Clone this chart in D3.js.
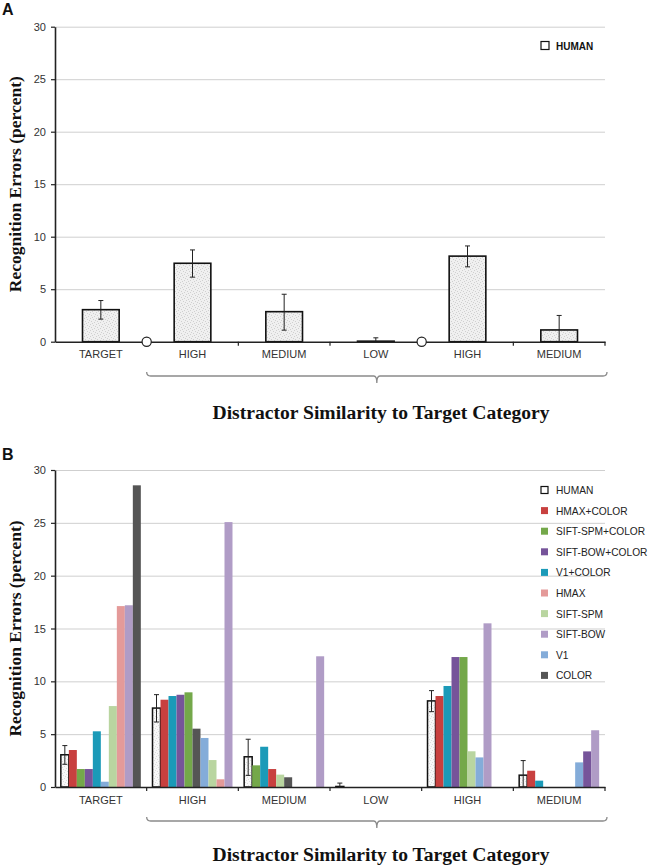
<!DOCTYPE html>
<html>
<head>
<meta charset="utf-8">
<script src="https://cdn.jsdelivr.net/npm/d3@7"></script>
<style>
    body { margin: 0; background: #fff; }
</style>
</head>
<body>
<script>
// categories along the x axis (two groups share names)
var categories = ["TARGET", "HIGH", "MEDIUM", "LOW", "HIGH", "MEDIUM"];

// human recognition errors and error bar ends (percent)
var humanVals = [3.05, 7.47, 2.86, 0.05, 8.15, 1.12];
var humanLow  = [2.15, 6.15, 1.1, 0, 7.13, 0];
var humanHigh = [3.92, 8.74, 4.52, 0.37, 9.12, 2.5];

// models, legend order
var seriesNames = ["HUMAN", "HMAX+COLOR", "SIFT-SPM+COLOR", "SIFT-BOW+COLOR",
    "V1+COLOR", "HMAX", "SIFT-SPM", "SIFT-BOW", "V1", "COLOR"];
var seriesColors = ["#ffffff", "#c8403f", "#74a84a", "#76549a", "#1b9ab8",
    "#e49a99", "#b9d5a0", "#b09cc6", "#84acd9", "#555555"];

// bar order inside each group (index in seriesNames) and its values
var targetOrder = [0, 1, 2, 3, 4, 8, 6, 5, 7, 9];
var targetVals  = [3.05, 3.5, 1.7, 1.7, 5.27, 0.5, 7.66, 17.12, 17.2, 28.55];
var highOrder   = [0, 1, 4, 3, 2, 9, 8, 6, 5, 7];
var highVals    = [7.47, 8.26, 8.61, 8.73, 8.96, 5.52, 4.64, 2.55, 0.73, 25.07];
var mediumOrder = [0, 2, 4, 1, 6, 9, 8, 5, 3, 7];
var mediumVals  = [2.86, 2.05, 3.81, 1.7, 1.17, 0.92, 0, 0, 0, 12.37];
var lowOrder    = [0, 1, 2, 3, 4, 5, 6, 7, 8, 9];
var lowVals     = [0.05, 0, 0, 0, 0, 0, 0, 0, 0, 0];
var high2Order  = [0, 1, 4, 3, 2, 6, 8, 7, 5, 9];
var high2Vals   = [8.15, 8.61, 9.56, 12.3, 12.3, 3.38, 2.8, 15.49, 0, 0];
var medium2Order = [0, 1, 4, 2, 6, 5, 9, 8, 3, 7];
var medium2Vals  = [1.12, 1.54, 0.6, 0, 0, 0, 0, 2.33, 3.37, 5.37];

var yTicks = [0, 5, 10, 15, 20, 25, 30];

var groupOrders = [targetOrder, highOrder, mediumOrder, lowOrder, high2Order,
    medium2Order];
var groupVals = [targetVals, highVals, mediumVals, lowVals, high2Vals,
    medium2Vals];

var SANS = "Liberation Sans, Arial, sans-serif";
var SERIF = "Liberation Serif, Times New Roman, serif";

var svg = d3.select("body").append("svg")
    .attr("width", 648)
    .attr("height", 865)
    .attr("font-family", SANS);

// stipple texture for the human bars
var defs = svg.append("defs");
function stipple(id, bg, dots)
{
    var p = defs.append("pattern")
        .attr("id", id)
        .attr("patternUnits", "userSpaceOnUse")
        .attr("width", 6).attr("height", 6);
    p.append("rect").attr("width", 6).attr("height", 6).attr("fill", bg);
    [[0, 0], [3, 1], [1, 3], [4, 4], [5, 2], [2, 5]].forEach(function(d)
    {
        p.append("rect").attr("x", d[0]).attr("y", d[1])
            .attr("width", 1).attr("height", 1).attr("fill", dots);
    });
}
stipple("dotsA", "#f0f0f0", "#d0d0d0");
stipple("dotsB", "#f8f8f8", "#dcdcdc");

var x = d3.scaleBand().domain(d3.range(6)).range([55, 605]);

function panel(top0, top30, letter, letterY)
{
    var y = d3.scaleLinear().domain([0, 30]).range([top0, top30]);
    var g = svg.append("g");

    // gridlines
    g.append("g")
        .attr("transform", "translate(55,0)")
        .call(d3.axisLeft(y).tickValues(yTicks.slice(1)).tickSize(-550)
            .tickFormat(""))
        .call(function(a) { a.select(".domain").remove(); })
        .selectAll("line").attr("stroke", "#cfcfcf");

    // y axis
    var ya = g.append("g")
        .attr("transform", "translate(55,0)")
        .call(d3.axisLeft(y).tickValues(yTicks).tickSize(4).tickSizeOuter(0)
            .tickPadding(5));
    ya.select(".domain").attr("stroke", "#222").attr("stroke-width", 1.6);
    ya.selectAll("line").attr("stroke", "#222").attr("stroke-width", 1.2);
    ya.selectAll("text").attr("font-size", 11).attr("fill", "#333")
        .attr("font-family", SANS);

    // y label
    g.append("text")
        .attr("transform", "translate(21," + ((top0 + top30) / 2) +
            ") rotate(-90)")
        .attr("text-anchor", "middle")
        .attr("font-family", SERIF)
        .attr("font-weight", "bold")
        .attr("font-size", 17.5)
        .attr("fill", "#111")
        .text("Recognition Errors (percent)");

    // panel letter
    g.append("text")
        .attr("x", 2).attr("y", letterY)
        .attr("font-size", 16).attr("font-weight", "bold").attr("fill", "#111")
        .text(letter);

    return {g: g, y: y};
}

function xAxis(g, y, circles)
{
    var xa = g.append("g")
        .attr("transform", "translate(0," + y(0) + ")")
        .call(d3.axisBottom(x).tickSize(0).tickPadding(9)
            .tickFormat(function(i) { return categories[i]; }));
    xa.select(".domain").attr("stroke", "#222").attr("stroke-width", 1.6);
    xa.selectAll("text").attr("font-size", 11).attr("fill", "#333")
        .attr("font-family", SANS);

    // boundary ticks between categories
    var bounds = d3.range(1, 7);
    g.selectAll(null).data(bounds.filter(function(b)
        { return circles.indexOf(b) < 0; }))
        .enter().append("line")
        .attr("x1", function(b) { return x(0) + b * x.step(); })
        .attr("x2", function(b) { return x(0) + b * x.step(); })
        .attr("y1", y(0)).attr("y2", y(0) + 4)
        .attr("stroke", "#222").attr("stroke-width", 1.2);
    g.selectAll(null).data(circles)
        .enter().append("circle")
        .attr("cx", function(b) { return x(0) + b * x.step(); })
        .attr("cy", y(0))
        .attr("r", 4.6)
        .attr("fill", "#fff").attr("stroke", "#222").attr("stroke-width", 1.2);
}

function brace(yTop, yLine)
{
    var l = x(1), r = x(5) + x.bandwidth() + 2, c = (l + r) / 2;
    svg.append("path")
        .attr("d", "M" + l + "," + yTop + " Q" + l + "," + yLine + " " +
            (l + 4) + "," + yLine + " L" + (c - 3) + "," + yLine + " Q" + c +
            "," + yLine + " " + c + "," + (yLine + 7) + " Q" + c + "," +
            yLine + " " + (c + 3) + "," + yLine + " L" + (r - 4) + "," +
            yLine + " Q" + r + "," + yLine + " " + r + "," + yTop)
        .attr("fill", "none").attr("stroke", "#8a8a8a").attr("stroke-width", 1.3);
}

function xTitle(yPos)
{
    svg.append("text")
        .attr("x", 381).attr("y", yPos)
        .attr("text-anchor", "middle")
        .attr("font-family", SERIF)
        .attr("font-weight", "bold")
        .attr("font-size", 19.6)
        .attr("fill", "#111")
        .text("Distractor Similarity to Target Category");
}

function errorBars(g, y, cx)
{
    var eb = g.selectAll(null).data(d3.range(6)).enter().append("g");
    eb.append("line")
        .attr("x1", cx).attr("x2", cx)
        .attr("y1", function(i) { return y(humanLow[i]); })
        .attr("y2", function(i) { return y(humanHigh[i]); })
        .attr("stroke", "#222").attr("stroke-width", 1);
    [humanLow, humanHigh].forEach(function(arr)
    {
        eb.filter(function(i) { return arr[i] > 0; })
            .append("line")
            .attr("x1", function(i) { return cx(i) - 2.5; })
            .attr("x2", function(i) { return cx(i) + 2.5; })
            .attr("y1", function(i) { return y(arr[i]); })
            .attr("y2", function(i) { return y(arr[i]); })
            .attr("stroke", "#222").attr("stroke-width", 1);
    });
}

// ---------------- panel A ----------------
var A = panel(341.7, 26.7, "A", 15);
var barW = x.bandwidth() * 0.4;
A.g.selectAll(null).data(d3.range(6)).enter().append("rect")
    .attr("x", function(i) { return x(i) + (x.bandwidth() - barW) / 2; })
    .attr("width", barW)
    .attr("y", function(i) { return A.y(humanVals[i]); })
    .attr("height", function(i) { return A.y(0) - A.y(humanVals[i]); })
    .attr("fill", "url(#dotsA)")
    .attr("stroke", "#111").attr("stroke-width", 1.6);
xAxis(A.g, A.y, [1, 4]);
errorBars(A.g, A.y, function(i) { return x(i) + x.bandwidth() / 2; });

// legend A
A.g.append("rect").attr("x", 541).attr("y", 41.5).attr("width", 8)
    .attr("height", 8).attr("fill", "#fff").attr("stroke", "#111")
    .attr("stroke-width", 1.2);
A.g.append("text").attr("x", 556).attr("y", 49.5)
    .attr("font-size", 10).attr("font-weight", "bold").attr("fill", "#111")
    .text("HUMAN");

brace(372, 376);
xTitle(419);

// ---------------- panel B ----------------
var B = panel(787, 470, "B", 460);
var x1 = d3.scaleBand().domain(d3.range(10)).range([0, x.bandwidth()])
    .paddingOuter(0.73);

var cells = [];
groupOrders.forEach(function(order, gi)
{
    order.forEach(function(s, k)
    {
        cells.push({g: gi, k: k, s: s, v: groupVals[gi][k]});
    });
});

B.g.selectAll(null).data(cells.filter(function(d) { return d.v > 0; }))
    .enter().append("rect")
    .attr("x", function(d) { return x(d.g) + x1(d.k); })
    .attr("width", x1.bandwidth())
    .attr("y", function(d) { return B.y(d.v); })
    .attr("height", function(d) { return B.y(0) - B.y(d.v); })
    .attr("fill", function(d)
        { return d.s === 0 ? "url(#dotsB)" : seriesColors[d.s]; })
    .attr("stroke", function(d) { return d.s === 0 ? "#111" : "none"; })
    .attr("stroke-width", 1.5);
xAxis(B.g, B.y, []);
errorBars(B.g, B.y, function(i) { return x(i) + x1(0) + x1.bandwidth() / 2; });

// legend B
var leg = B.g.selectAll(null).data(seriesNames).enter().append("g")
    .attr("transform", function(d, i)
        { return "translate(541," + (490 + i * 20.6) + ")"; });
leg.append("rect")
    .attr("x", 0).attr("y", -3.5).attr("width", 7).attr("height", 7)
    .attr("fill", function(d, i) { return seriesColors[i]; })
    .attr("stroke", function(d, i) { return i === 0 ? "#111" : "none"; })
    .attr("stroke-width", 1.2);
leg.append("text")
    .attr("x", 15).attr("y", 4)
    .attr("font-size", 10.2).attr("fill", "#222")
    .text(function(d) { return d; });

brace(817, 821);
xTitle(861);
</script>
</body>
</html>
